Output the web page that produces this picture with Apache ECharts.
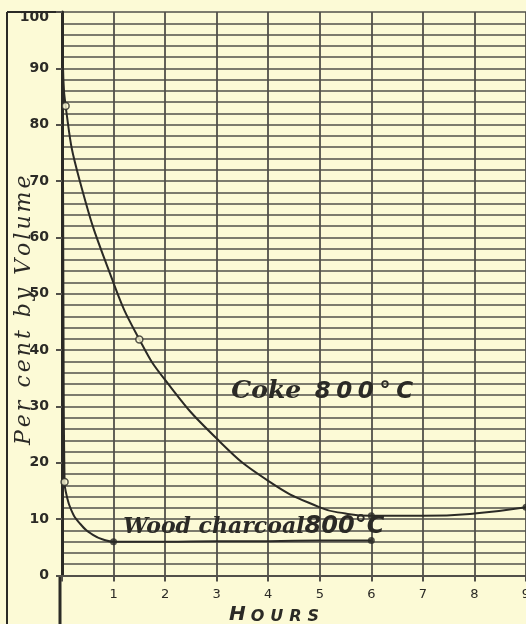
<!DOCTYPE html>
<html>
<head>
<meta charset="utf-8">
<script src="https://cdn.jsdelivr.net/npm/echarts@6/dist/echarts.min.js"></script>
<style>
  html, body { margin: 0; padding: 0; background: #fcfad6; }
  #chart { width: 526px; height: 624px; }
</style>
</head>
<body>
<div id="chart"></div>
<script>
// curves (hours, per cent by volume)
var cokeHours = [0, 0.02, 0.07, 0.34, 1.0, 1.5, 2.0, 3.0, 4.0, 5.0, 5.5, 6.0, 7.0, 8.0, 9.0];
var cokeVol   = [99, 90, 83.3, 70.2, 51.9, 41.9, 34.7, 24.3, 16.8, 12.1, 11.0, 10.6, 10.6, 11.0, 12.1];

var woodHours = [0.01, 0.03, 0.05, 0.08, 0.18, 0.34, 0.6, 0.86, 1, 2, 3, 4, 5, 6];
var woodVol   = [99, 40, 16.6, 14.6, 11.6, 9.3, 7.2, 6.2, 6.0, 6.0, 6.1, 6.1, 6.2, 6.2];

// observed points
var cokeOpen   = [[0.07, 83.3], [1.5, 41.9]];
var cokeFilled = [[6, 10.6], [9, 12.1]];
var woodOpen   = [[0.05, 16.6]];
var woodFilled = [[1, 6.0], [6, 6.2]];

var hourTicks = [1, 2, 3, 4, 5, 6, 7, 8, 9];

var ink = '#2b2a26';
var gridInk = '#52504a';
var paper = '#fcfad6';

function pairs(xs, ys) {
    var out = [];
    for (var i = 0; i < xs.length; i++) out.push([xs[i], ys[i]]);
    return out;
}

// wrap every char in its own rich token, to get letter spacing
function spaced(str, style) {
    return str.split('').map(function (c) { return '{' + style + '|' + c + '}'; }).join('');
}

var chart = echarts.init(document.getElementById('chart'));

var option = {
    backgroundColor: paper,
    animation: false,
    grid: { left: 62, right: 0, top: 12, bottom: 48.5, outerBoundsMode: 'none', containLabel: false },
    xAxis: {
        type: 'value',
        min: 0,
        max: 9,
        interval: 1,
        name: '{h|H}' + spaced('OURS', 'o'),
        nameLocation: 'middle',
        nameGap: 29,
        nameMoveOverlap: false,
        nameTextStyle: {
            padding: [0, 34, 0, 0],
            rich: {
                h: { fontFamily: 'DejaVu Sans', fontStyle: 'italic', fontWeight: 'bold', fontSize: 20, color: ink, padding: [0, 5, 0, 0] },
                o: { fontFamily: 'DejaVu Sans', fontStyle: 'italic', fontWeight: 'bold', fontSize: 16, color: ink, padding: [0, 6, 0, 0], verticalAlign: 'bottom' }
            }
        },
        axisLine: { show: true, onZero: false, lineStyle: { color: gridInk, width: 2 } },
        axisTick: { show: true, length: 6, lineStyle: { color: gridInk, width: 2 } },
        axisLabel: {
            margin: 13,
            fontFamily: 'DejaVu Sans',
            fontSize: 13,
            color: ink,
            formatter: function (v) { return hourTicks.indexOf(v) >= 0 ? String(v) : ''; }
        },
        splitLine: { show: true, lineStyle: { color: gridInk, width: 1.8 } }
    },
    yAxis: {
        type: 'value',
        min: 0,
        max: 100,
        interval: 10,
        offset: 2,
        name: spaced('Per cent by Volume', 's'),
        nameLocation: 'middle',
        nameRotate: 90,
        nameGap: 25,
        nameMoveOverlap: false,
        nameTextStyle: {
            padding: [0, 30, 0, 0],
            rich: {
                s: { fontFamily: 'DejaVu Serif', fontStyle: 'italic', fontSize: 22, color: ink, padding: [0, 3, 0, 0] }
            }
        },
        axisLine: { show: true, lineStyle: { color: ink, width: 3 } },
        axisTick: { show: true, length: 6, lineStyle: { color: gridInk, width: 2 } },
        axisLabel: {
            margin: 11,
            fontFamily: 'DejaVu Sans',
            fontWeight: 'bold',
            fontSize: 14,
            color: ink,
            formatter: function (v) { return v === 100 ? '{t|100}' : String(v); },
            rich: {
                t: { fontFamily: 'DejaVu Sans', fontWeight: 'bold', fontSize: 14, color: ink, padding: [10, 0, 0, 0] }
            }
        },
        splitLine: { show: true, lineStyle: { color: gridInk, width: 1.6 } },
        minorTick: { show: false, splitNumber: 5 },
        minorSplitLine: { show: true, lineStyle: { color: gridInk, width: 1.6 } }
    },
    graphic: [
        { type: 'line', shape: { x1: 7, y1: 12, x2: 7, y2: 624 }, style: { stroke: ink, lineWidth: 2 } },
        { type: 'line', shape: { x1: 7, y1: 12, x2: 62, y2: 12 }, style: { stroke: ink, lineWidth: 2 } },
        { type: 'line', shape: { x1: 60, y1: 575, x2: 60, y2: 624 }, style: { stroke: ink, lineWidth: 3 } }
    ],
    series: [
        {
            name: 'Coke 800°C',
            type: 'line',
            data: pairs(cokeHours, cokeVol),
            smooth: 0.5,
            showSymbol: false,
            clip: true,
            lineStyle: { color: ink, width: 2 },
            markPoint: {
                silent: true,
                symbol: 'circle',
                symbolSize: 0,
                data: [{
                    coord: [5.1, 32.6],
                    label: {
                        show: true,
                        formatter: '{c|Coke}{n| }' + spaced('800°', 'n') + '{n|C}',
                        rich: {
                            c: { fontFamily: 'DejaVu Serif', fontStyle: 'italic', fontWeight: 'bold', fontSize: 25, color: ink },
                            n: { fontFamily: 'DejaVu Sans', fontStyle: 'italic', fontWeight: 'bold', fontSize: 23, color: ink, padding: [0, 5.5, 0, 0] }
                        }
                    }
                }]
            }
        },
        {
            name: 'Wood charcoal 800°C',
            type: 'line',
            data: pairs(woodHours, woodVol),
            smooth: 0.5,
            showSymbol: false,
            lineStyle: { color: ink, width: 2 },
            markPoint: {
                silent: true,
                symbol: 'circle',
                symbolSize: 0,
                data: [{
                    coord: [3.72, 8.6],
                    label: {
                        show: true,
                        formatter: '{w|Wood charcoal}{b|800°C}',
                        rich: {
                            w: { fontFamily: 'DejaVu Serif', fontStyle: 'italic', fontWeight: 'bold', fontSize: 22, color: ink },
                            b: { fontFamily: 'DejaVu Sans', fontStyle: 'italic', fontWeight: 'bold', fontSize: 24, color: ink }
                        }
                    }
                }]
            }
        },
        {
            type: 'scatter',
            data: cokeOpen.concat(woodOpen),
            symbol: 'circle',
            symbolSize: 7,
            clip: false,
            itemStyle: { color: paper, borderColor: ink, borderWidth: 1.5 },
            z: 5
        },
        {
            type: 'scatter',
            data: cokeFilled.concat(woodFilled),
            symbol: 'circle',
            symbolSize: 7,
            clip: false,
            itemStyle: { color: ink },
            z: 5
        }
    ]
};

chart.setOption(option);
</script>
</body>
</html>
